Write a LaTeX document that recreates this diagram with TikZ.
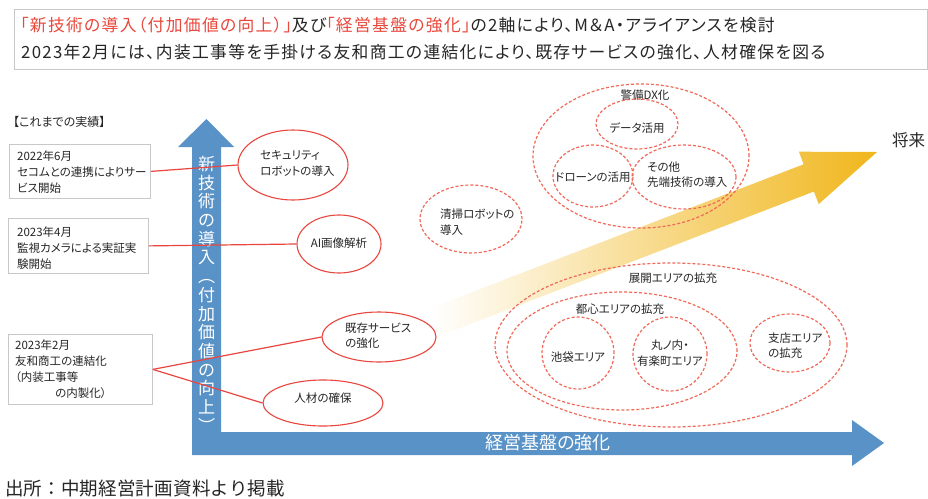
\documentclass[tikz,border=0pt]{standalone}
\usepackage{fontspec}
\setmainfont{Noto Sans CJK JP}[RawFeature=+palt]
\newfontfamily\plainjp{Noto Sans CJK JP}
\newfontfamily\hdrjp{Noto Sans CJK JP}[RawFeature=+palt, LetterSpace=7.8]
\newfontfamily\footjp{Noto Sans CJK JP}[LetterSpace=1]
\usetikzlibrary{shapes.geometric}
\definecolor{axisblue}{RGB}{88,146,199}
\definecolor{solred}{RGB}{232,70,62}
\definecolor{dashred}{RGB}{240,105,90}
\definecolor{hdred}{RGB}{233,72,60}
\definecolor{textc}{RGB}{38,38,38}
\definecolor{boxgray}{RGB}{200,200,200}
\definecolor{gold}{RGB}{240,182,28}
\tikzset{
  recbox/.style={draw=boxgray, line width=0.8pt, inner sep=0pt},
  solell/.style={ellipse, draw=solred, line width=1.1pt, fill=white, inner sep=0pt},
  dshell/.style={ellipse, draw=dashred, line width=1.2pt, dash pattern=on 3pt off 2pt, inner sep=0pt},
  txt/.style={font=\fontsize{11.5}{15.5}\selectfont, text=textc, inner sep=0pt, align=left},
  btxt/.style={font=\fontsize{11.5}{16}\selectfont, text=textc, inner sep=0pt, align=left},
  conn/.style={draw=solred, line width=1.2pt},
  hdrtxt/.style={font=\hdrjp\fontsize{16.8}{20}\selectfont, text=textc, inner sep=0pt, anchor=west},
}
\begin{document}
\begin{tikzpicture}[x=1pt,y=-1pt]
\useasboundingbox (0,0) rectangle (928,498);
\fill[white] (0,0) rectangle (928,498);

% header
\node[draw=boxgray, line width=0.8pt, minimum width=913pt, minimum height=60pt, inner sep=0pt, anchor=north west] (hdr) at (14,9) {};
\node[hdrtxt] (h1) at (20,25) {\textcolor{hdred}{「新技術の導入（付加価値の向上）」}及び\textcolor{hdred}{「経営基盤の強化」}の2軸により、M＆A・アライアンスを検討};
\node[hdrtxt] (h2) at (21,52) {2023年2月には、内装工事等を手掛ける友和商工の連結化により、既存サービスの強化、人材確保を図る};

% axes
\fill[axisblue] (206.5,119) -- (234,147) -- (221,147) -- (221,432) -- (852,432) -- (852,420) -- (884,443) -- (852,466) -- (852,455) -- (192,455) -- (192,147) -- (178,147) -- cycle;
\node[font=\fontsize{17}{18.7}\selectfont, text=white, inner sep=0pt, align=center, anchor=north] (vlab) at (206.5,156) {新\\技\\術\\の\\導\\入\\{\plainjp ︵}\\付\\加\\価\\値\\の\\向\\上\\{\plainjp ︶}};
\node[font=\fontsize{18}{20}\selectfont, text=white, inner sep=0pt] (hlab) at (548,443) {経営基盤の強化};

% yellow arrow
\shade[left color=white, right color=gold] (429.8,308.4) -- (803.6,164.3) -- (798.9,151.7) -- (877,152) -- (818.7,204.1) -- (813.9,191.5) -- (440.2,335.6) -- cycle;
\node[font=\fontsize{16.5}{20}\selectfont, text=textc, inner sep=0pt, anchor=west] (future) at (892,140) {将来};

% left column
\node[font=\fontsize{12}{15}\selectfont, text=textc, inner sep=0pt, anchor=west] (hist) at (13,122) {【これまでの実績】};
\node[recbox, minimum width=141pt, minimum height=54pt, anchor=north west] (b1) at (9,144) {};
\node[btxt, anchor=west] (b1t) at (17,172) {2022年6月\\セコムとの連携によりサー\\ビス開始};
\node[recbox, minimum width=140pt, minimum height=55pt, anchor=north west] (b2) at (8,218) {};
\node[btxt, anchor=west] (b2t) at (17,248) {2023年4月\\監視カメラによる実証実\\験開始};
\node[recbox, minimum width=144pt, minimum height=70pt, anchor=north west] (b3) at (8,334) {};
\node[btxt, anchor=west] (b3t) at (15,369.5) {2023年2月\\友和商工の連結化\\（内装工事等\\\hspace*{40pt}の内製化）};

% solid ellipses
\node[solell, minimum width=110pt, minimum height=70pt] (e1) at (293,165) {};
\node[txt, anchor=west] at (260,163.5) {セキュリティ\\ロボットの導入};
\node[solell, minimum width=84pt, minimum height=58pt] (e2) at (339,244) {};
\node[txt] at (339,243) {AI画像解析};
\node[solell, minimum width=114pt, minimum height=50pt] (e3) at (379,337) {};
\node[txt, anchor=west] at (345,335.5) {既存サービス\\の強化};
\node[solell, minimum width=120pt, minimum height=46pt] (e4) at (323,403) {};
\node[txt] at (323,398) {人材の確保};

% connectors
\draw[conn] (b1.east) -- (e1.west);
\draw[conn] (b2.east) -- (e2.west);
\draw[conn] (b3.east) -- (e3.west);
\draw[conn] (b3.east) -- (e4.west);

% dashed ellipses: security DX
\node[dshell, minimum width=216pt, minimum height=144pt] (dx) at (641,156) {};
\node[txt] at (645,95) {警備DX化};
\node[dshell, minimum width=82pt, minimum height=50pt] (data) at (637,124) {};
\node[txt] at (637,128) {データ活用};
\node[dshell, minimum width=80pt, minimum height=62pt] (drone) at (593,176) {};
\node[txt] at (593,177) {ドローンの活用};
\node[dshell, minimum width=104pt, minimum height=64pt] (other) at (684,177) {};
\node[txt, anchor=west] at (647,174.5) {その他\\先端技術の導入};
\node[dshell, minimum width=102pt, minimum height=68pt] (clean) at (471,219) {};
\node[txt, anchor=west] at (440,222) {清掃ロボットの\\導入};

% dashed ellipses: areas
\node[dshell, minimum width=352pt, minimum height=164pt] (tenkai) at (671,345) {};
\node[txt] at (673,278) {展開エリアの拡充};
\node[dshell, minimum width=230pt, minimum height=118pt] (toshin) at (622,351) {};
\node[txt] at (620,309) {都心エリアの拡充};
\node[dshell, minimum width=72pt, minimum height=72pt] (ike) at (578,353) {};
\node[txt] at (578,357) {池袋エリア};
\node[dshell, minimum width=74pt, minimum height=74pt] (maru) at (670,354) {};
\node[txt, align=center] at (670,353) {丸ノ内・\\有楽町エリア};
\node[dshell, minimum width=80pt, minimum height=58pt] (shiten) at (790,343) {};
\node[txt, anchor=west] at (768,345.5) {支店エリア\\の拡充};

% footer
\node[font=\footjp\fontsize{18.5}{22}\selectfont, text=textc, inner sep=0pt, anchor=west] (src) at (5,488) {出所：中期経営計画資料より掲載};
\end{tikzpicture}
\end{document}
